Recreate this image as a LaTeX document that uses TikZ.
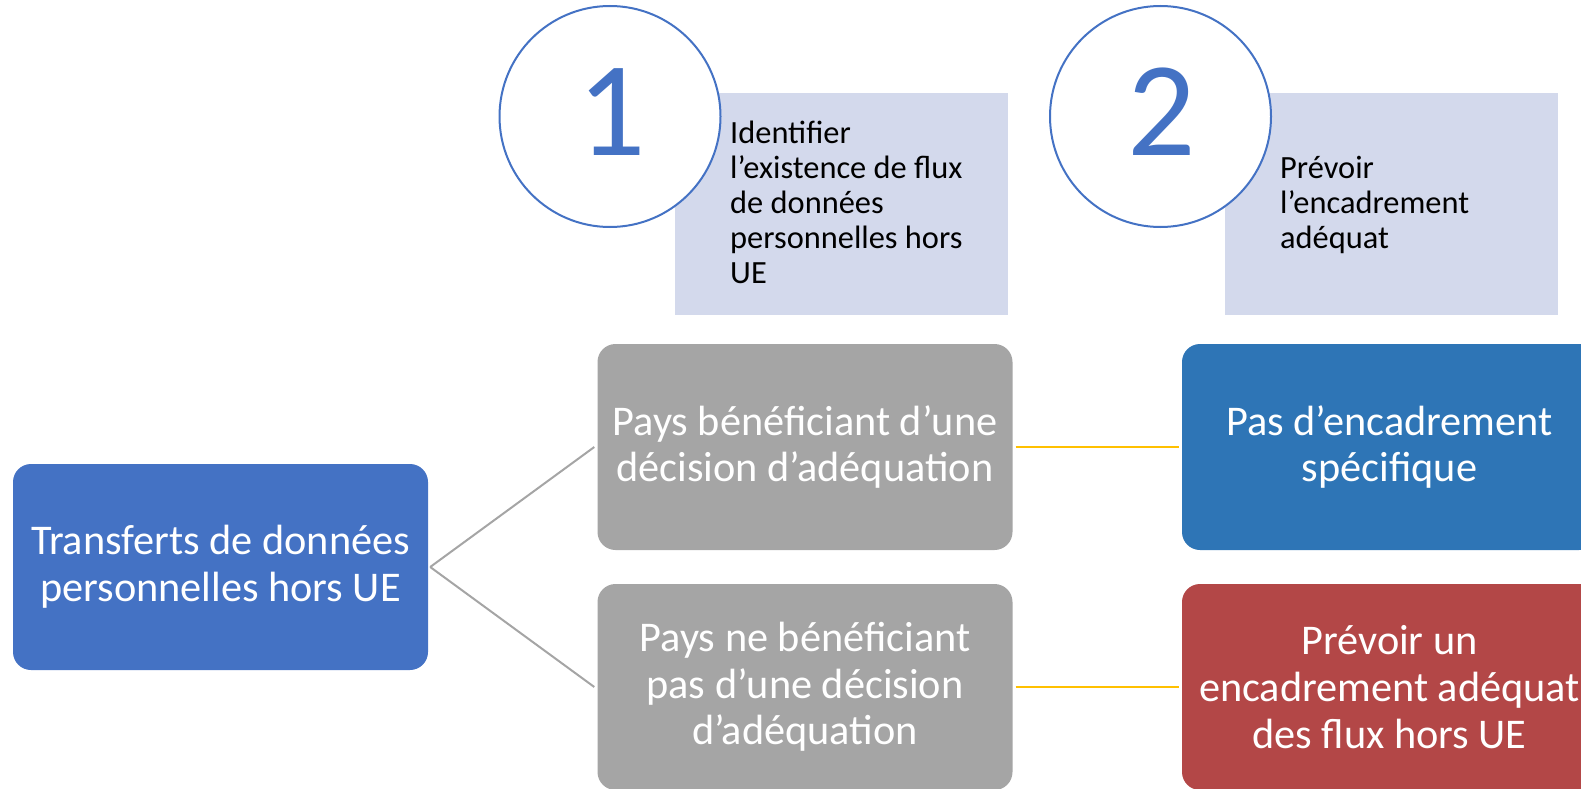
\documentclass[tikz,border=0pt]{standalone}
\usepackage{fontspec}
\setmainfont{Carlito}
\definecolor{boxblue}{HTML}{4472C4}
\definecolor{boxgray}{HTML}{A5A5A5}
\definecolor{boxblueb}{HTML}{2E75B6}
\definecolor{boxred}{HTML}{B34747}
\definecolor{lav}{HTML}{D3D9EC}
\definecolor{ylw}{HTML}{FFC000}
\begin{document}
\begin{tikzpicture}[x=1pt,y=-1pt,
  bigbox/.style={rounded corners=18pt, minimum width=415pt, minimum height=206pt, inner sep=0pt,
    text=white, align=center, font=\fontsize{42.3}{46.7}\selectfont},
  lavbox/.style={fill=lav, minimum width=333pt, minimum height=222pt, inner sep=0pt, anchor=north west},
  numcircle/.style={circle, draw=boxblue, line width=2pt, fill=white, minimum size=221pt, inner sep=0pt},
  numtext/.style={text=boxblue, font=\fontsize{135}{135}\selectfont},
  smalltext/.style={anchor=base west, align=left, inner sep=0pt, font=\fontsize{32.4}{35}\selectfont},
  grayline/.style={draw=boxgray, line width=2pt},
  yline/.style={draw=ylw, line width=2.8pt}]
\useasboundingbox (0,0) rectangle (1581,789);
\clip (0,0) rectangle (1581,789);
% lavender rects
\node[lavbox] (r1) at (675,93) {};
\node[lavbox] (r2) at (1225,93) {};
\node[smalltext] (t1) at (730,283) {Identifier\\l’existence de flux\\de données\\personnelles hors\\UE};
\node[smalltext] (t2) at (1280,248) {Prévoir\\l’encadrement\\adéquat};
% circles
\node[numcircle] (c1) at (610,116.5) {};
\node[numtext] (n1) at (612,112) {1};
\node[numcircle] (c2) at (1160.5,116.5) {};
\node[numtext] (n2) at (1162,112) {2};
% boxes
\node[bigbox, fill=boxblue] (src) at (220.5,567) {Transferts de données\\personnelles hors UE};
\node[bigbox, fill=boxgray] (g1) at (805,447) {Pays bénéficiant d’une\\décision d’adéquation};
\node[bigbox, fill=boxgray] (g2) at (805,687) {Pays ne bénéficiant\\pas d’une décision\\d’adéquation};
\node[bigbox, fill=boxblueb] (b1) at (1389.5,447) {Pas d’encadrement\\spécifique};
\node[bigbox, fill=boxred] (b2) at (1389.5,687) {Prévoir un\\encadrement adéquat\\des flux hors UE};
% connectors
\draw[grayline] ([xshift=2pt]src.east) -- ([xshift=-3pt]g1.west);
\draw[grayline] ([xshift=2pt]src.east) -- ([xshift=-3pt]g2.west);
\draw[yline] ([xshift=3pt]g1.east) -- ([xshift=-3pt]b1.west);
\draw[yline] ([xshift=3pt]g2.east) -- ([xshift=-3pt]b2.west);
\end{tikzpicture}
\end{document}
